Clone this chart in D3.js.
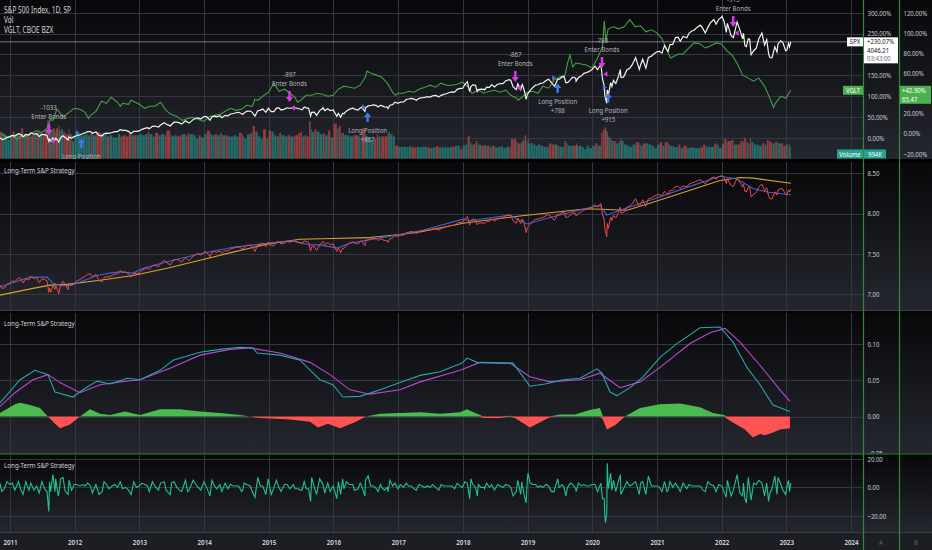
<!DOCTYPE html>
<html>
<head>
<meta charset="utf-8">
<script src="https://cdn.jsdelivr.net/npm/d3@7"></script>
<style>
  html, body { margin: 0; padding: 0; background: #131419; overflow: hidden; }
  svg { display: block; font-family: "Noto Sans", sans-serif; }
</style>
</head>
<body>
<script>
// S&P 500 daily-ish samples: date, close, volume (K), short-term oscillator
const spxRows = [
  ["2010-11-05",1225.85,2100,3],["2010-11-16",1178,2300,-3],["2010-11-30",1180,2200,-1],["2010-12-15",1236,2000,4],["2010-12-31",1258,1600,2],
  ["2011-01-14",1293,2000,3],["2011-01-28",1276,2300,-2],["2011-02-18",1343,2000,4],["2011-03-04",1321,2200,-2],["2011-03-16",1257,2600,-5],
  ["2011-03-31",1326,2100,4],["2011-04-18",1305,2000,-2],["2011-04-29",1364,1900,3],["2011-05-16",1329,2000,-2],["2011-05-31",1345,2100,1],
  ["2011-06-15",1265,2300,-4],["2011-06-30",1321,2200,4],["2011-07-15",1316,2000,-1],["2011-07-29",1292,2400,-3],["2011-08-08",1119,3300,-17],
  ["2011-08-12",1179,3000,4],["2011-08-19",1123,2800,-3],["2011-08-31",1219,2500,9],["2011-09-12",1162,2600,-3],["2011-09-16",1216,2400,6],
  ["2011-09-30",1131,2600,-6],["2011-10-03",1099,2800,-5],["2011-10-14",1225,2400,6],["2011-10-27",1285,2500,7],["2011-11-09",1230,2300,-3],
  ["2011-11-25",1158,2100,-5],["2011-11-30",1247,2500,5],["2011-12-15",1215,2100,-2],["2011-12-30",1258,1500,2],
  ["2012-01-13",1289,2000,2],["2012-01-31",1312,2100,1],["2012-02-15",1343,2000,2],["2012-02-29",1366,2000,1],["2012-03-15",1402,2100,3],
  ["2012-03-30",1408,2000,1],["2012-04-10",1358,2200,-4],["2012-04-30",1398,2000,2],["2012-05-18",1295,2300,-5],["2012-06-04",1278,2200,-3],
  ["2012-06-15",1342,2100,4],["2012-06-29",1362,2200,2],["2012-07-13",1356,1900,-1],["2012-07-31",1379,2000,1],["2012-08-15",1405,1800,2],
  ["2012-08-31",1407,1800,0],["2012-09-14",1465,2100,4],["2012-09-28",1441,1900,-1],["2012-10-15",1440,2000,0],["2012-10-31",1412,1900,-2],
  ["2012-11-15",1353,2200,-5],["2012-11-30",1416,2000,4],["2012-12-14",1413,2000,0],["2012-12-31",1426,2000,1],
  ["2013-01-15",1472,2100,3],["2013-01-31",1498,2000,2],["2013-02-15",1519,2100,1],["2013-02-25",1488,2300,-3],["2013-03-15",1560,2100,4],
  ["2013-03-28",1569,1900,1],["2013-04-18",1541,2200,-2],["2013-04-30",1598,2000,3],["2013-05-21",1669,2100,4],["2013-05-31",1631,2000,-2],
  ["2013-06-24",1573,2400,-5],["2013-07-01",1614,2000,3],["2013-07-15",1682,1900,4],["2013-07-31",1686,2000,0],["2013-08-15",1661,1900,-2],
  ["2013-08-27",1630,2000,-3],["2013-09-18",1725,2100,5],["2013-09-30",1682,2000,-3],["2013-10-08",1655,2200,-2],["2013-10-31",1757,2100,5],
  ["2013-11-15",1798,2000,2],["2013-11-29",1806,1700,0],["2013-12-13",1775,2000,-2],["2013-12-31",1848,1800,4],
  ["2014-01-15",1848,2100,0],["2014-02-03",1741,2400,-6],["2014-02-14",1838,2100,5],["2014-02-28",1859,2000,1],["2014-03-14",1841,2100,-1],
  ["2014-03-31",1872,2000,2],["2014-04-11",1815,2200,-3],["2014-04-30",1884,2000,3],["2014-05-15",1870,2000,-1],["2014-05-30",1924,1900,2],
  ["2014-06-16",1937,1900,1],["2014-06-30",1960,2000,1],["2014-07-15",1973,1900,1],["2014-07-31",1931,2200,-3],["2014-08-07",1909,2100,-2],
  ["2014-08-15",1955,1900,3],["2014-08-29",2003,1700,2],["2014-09-18",2011,2100,1],["2014-09-30",1972,2200,-3],["2014-10-15",1862,2800,-7],
  ["2014-10-31",2018,2300,7],["2014-11-14",2039,1900,1],["2014-11-28",2068,1700,1],["2014-12-16",1972,2500,-5],["2014-12-29",2090,1700,6],
  ["2015-01-15",1992,2400,-5],["2015-01-30",1995,2300,0],["2015-02-13",2096,2000,5],["2015-02-27",2105,1900,0],["2015-03-11",2040,2200,-3],
  ["2015-03-31",2068,2000,2],["2015-04-15",2106,1900,2],["2015-04-30",2086,2000,-1],["2015-05-20",2125,1900,2],["2015-05-29",2107,1900,-1],
  ["2015-06-15",2084,2000,-1],["2015-06-30",2063,2200,-2],["2015-07-08",2046,2300,-2],["2015-07-20",2128,1900,4],["2015-07-31",2104,2000,-1],
  ["2015-08-14",2091,1900,-1],["2015-08-25",1867,3200,-10],["2015-08-31",1972,2500,7],["2015-09-15",1978,2300,0],["2015-09-28",1881,2500,-5],
  ["2015-10-15",2023,2300,6],["2015-10-30",2079,2100,3],["2015-11-03",2109,2000,2],["2015-11-13",2023,2200,-4],["2015-11-30",2080,2000,3],
  ["2015-12-14",2021,2400,-3],["2015-12-31",2044,1800,1],
  ["2016-01-20",1859,3000,-8],["2016-01-29",1940,2600,4],["2016-02-11",1829,2800,-5],["2016-02-22",1945,2200,6],["2016-02-29",1932,2200,-1],
  ["2016-03-15",2015,2000,4],["2016-03-31",2060,2000,2],["2016-04-20",2102,1900,2],["2016-04-29",2065,2000,-2],["2016-05-19",2040,2000,-1],
  ["2016-05-31",2097,1900,3],["2016-06-08",2119,1800,1],["2016-06-27",2000,2600,-6],["2016-06-30",2099,2100,5],["2016-07-15",2161,1900,8],
  ["2016-07-29",2174,1800,1],["2016-08-15",2190,1600,1],["2016-08-31",2171,1700,-1],["2016-09-09",2127,2100,-3],["2016-09-22",2177,1900,2],
  ["2016-09-30",2168,1900,0],["2016-10-14",2133,1900,-2],["2016-10-31",2126,1900,0],["2016-11-04",2085,2100,-3],["2016-11-15",2180,2300,5],
  ["2016-11-30",2199,2100,1],["2016-12-13",2271,1900,3],["2016-12-30",2239,1100,-1],
  ["2017-01-13",2275,1000,2],["2017-01-31",2279,1000,0],["2017-02-15",2349,1000,3],["2017-02-28",2364,1000,1],["2017-03-15",2385,1050,1],
  ["2017-03-31",2363,1000,-1],["2017-04-13",2329,950,-2],["2017-04-28",2384,1000,2],["2017-05-15",2402,950,1],["2017-05-31",2412,1000,0],
  ["2017-06-15",2432,1000,1],["2017-06-30",2423,950,0],["2017-07-14",2459,900,2],["2017-07-31",2470,950,0],["2017-08-18",2426,1050,-2],
  ["2017-08-31",2472,950,2],["2017-09-15",2500,1000,1],["2017-09-29",2519,950,1],["2017-10-16",2557,950,1],["2017-10-31",2575,1000,1],
  ["2017-11-15",2565,1000,-1],["2017-11-30",2648,1100,3],["2017-12-15",2676,1100,1],["2017-12-29",2674,800,0],
  ["2018-01-12",2786,1100,4],["2018-01-26",2873,1200,3],["2018-02-08",2581,1900,-8],["2018-02-15",2731,1400,6],["2018-02-26",2780,1200,2],
  ["2018-03-13",2766,1200,0],["2018-03-23",2588,1500,-6],["2018-03-29",2641,1300,2],["2018-04-13",2656,1200,0],["2018-04-30",2648,1100,0],
  ["2018-05-03",2630,1200,-1],["2018-05-15",2711,1100,3],["2018-05-31",2705,1100,0],["2018-06-12",2787,1000,2],["2018-06-28",2716,1100,-2],
  ["2018-07-16",2798,950,2],["2018-07-31",2816,1000,1],["2018-08-15",2818,1050,0],["2018-08-31",2902,900,2],["2018-09-20",2931,1000,1],
  ["2018-09-28",2914,1000,0],["2018-10-11",2728,1700,-6],["2018-10-29",2641,1700,-3],["2018-11-07",2814,1400,5],["2018-11-23",2633,1300,-5],
  ["2018-11-30",2760,1400,4],["2018-12-03",2790,1400,1],["2018-12-14",2600,1600,-6],["2018-12-24",2351,2000,-11],["2018-12-31",2507,1500,6],
  ["2019-01-04",2532,1700,10],["2019-01-15",2610,1300,3],["2019-01-31",2704,1300,2],["2019-02-15",2775,1200,2],["2019-02-28",2784,1100,0],
  ["2019-03-15",2822,1200,1],["2019-03-29",2834,1100,0],["2019-04-15",2906,1000,2],["2019-04-30",2946,1000,1],["2019-05-15",2850,1300,-3],
  ["2019-05-31",2752,1200,-3],["2019-06-03",2744,1200,-1],["2019-06-20",2954,1200,6],["2019-06-28",2942,1100,0],["2019-07-15",3014,1000,2],
  ["2019-07-26",3025,1000,0],["2019-08-05",2844,1500,-6],["2019-08-15",2847,1300,0],["2019-08-30",2926,1100,3],["2019-09-13",3007,1100,2],
  ["2019-09-30",2977,1100,-1],["2019-10-02",2887,1300,-3],["2019-10-15",2995,1100,3],["2019-10-31",3038,1100,1],["2019-11-15",3120,1000,2],
  ["2019-11-29",3141,800,1],["2019-12-13",3169,1100,1],["2019-12-31",3231,900,2],
  ["2020-01-17",3329,1100,2],["2020-01-31",3226,1300,-3],["2020-02-19",3386,1100,3],["2020-02-28",2954,2200,-8],["2020-03-09",2746,2500,-8],
  ["2020-03-12",2480,2700,-20],["2020-03-16",2386,2600,-25],["2020-03-23",2237,2400,-18],["2020-03-26",2630,2300,17],["2020-04-01",2470,1900,-1],
  ["2020-04-14",2846,1800,10],["2020-04-21",2737,1600,-2],["2020-04-30",2912,1500,5],["2020-05-13",2820,1500,-3],["2020-05-29",3044,1300,5],
  ["2020-06-08",3232,1500,9],["2020-06-11",3002,1700,-5],["2020-06-26",3009,1500,-1],["2020-07-15",3227,1200,4],["2020-07-31",3271,1100,1],
  ["2020-08-14",3373,1000,2],["2020-09-02",3580,1200,4],["2020-09-23",3237,1400,-5],["2020-09-30",3363,1200,3],["2020-10-12",3534,1100,4],
  ["2020-10-30",3270,1300,-5],["2020-11-13",3585,1300,8],["2020-11-30",3622,1200,1],["2020-12-15",3694,1100,1],["2020-12-31",3756,900,1],
  ["2021-01-15",3768,1200,0],["2021-01-29",3714,1400,-3],["2021-02-12",3934,1100,4],["2021-02-26",3811,1400,-3],["2021-03-04",3768,1400,-2],
  ["2021-03-15",3968,1200,4],["2021-03-31",3973,1100,0],["2021-04-15",4170,1000,3],["2021-04-30",4181,1000,0],["2021-05-12",4063,1200,-3],
  ["2021-05-28",4204,900,3],["2021-06-18",4166,1100,-1],["2021-06-30",4298,900,2],["2021-07-15",4360,950,1],["2021-07-30",4395,950,1],
  ["2021-08-16",4479,900,1],["2021-09-02",4537,900,1],["2021-09-17",4433,1000,-2],["2021-09-30",4308,1200,-3],["2021-10-15",4471,1000,4],
  ["2021-10-29",4605,1000,2],["2021-11-18",4705,1000,1],["2021-11-30",4567,1300,-3],["2021-12-15",4709,1200,2],["2021-12-31",4766,900,1],
  ["2022-01-03",4797,1100,1],["2022-01-14",4662,1300,-3],["2022-01-27",4326,1700,-7],["2022-02-02",4589,1400,5],["2022-02-23",4225,1500,-6],
  ["2022-03-08",4170,1600,-2],["2022-03-29",4632,1200,9],["2022-04-14",4392,1200,-4],["2022-04-29",4132,1500,-6],["2022-05-04",4300,1400,3],
  ["2022-05-12",3930,1800,-8],["2022-05-20",3901,1700,-11],["2022-05-31",4132,1400,7],["2022-06-08",4116,1300,-1],["2022-06-16",3666,1700,-9],
  ["2022-06-30",3785,1400,3],["2022-07-15",3863,1200,2],["2022-07-29",4130,1200,5],["2022-08-16",4305,1100,3],["2022-08-31",3955,1300,-6],
  ["2022-09-12",4110,1200,3],["2022-09-23",3693,1600,-10],["2022-09-30",3586,1500,-4],["2022-10-12",3577,1400,-1],["2022-10-28",3901,1300,8],
  ["2022-11-09",3749,1400,-5],["2022-11-15",3992,1400,7],["2022-12-01",4076,1300,2],["2022-12-13",4019,1300,-2],["2022-12-28",3783,1100,-5],
  ["2023-01-05",3808,1200,1],["2023-01-13",3999,1200,5],["2023-01-19",3899,1200,-3],["2023-01-26",4046.21,994,3]
];

// VGLT change from first bar, %
const vgltRows = [
  ["2010-11-05",0],["2010-11-30",-2],["2010-12-15",-5],["2010-12-31",-3],["2011-01-31",-4],["2011-02-09",-6],["2011-02-28",-3],
  ["2011-03-31",-3],["2011-04-29",0],["2011-05-31",3],["2011-06-30",1],["2011-07-29",5],["2011-08-18",14],["2011-08-31",13],
  ["2011-09-22",24],["2011-09-30",23],["2011-10-27",16],["2011-11-30",21],["2011-12-30",25],["2012-01-31",24],["2012-02-29",21],
  ["2012-03-19",15],["2012-03-30",18],["2012-04-30",22],["2012-05-31",32],["2012-06-29",30],["2012-07-24",36],["2012-08-31",31],
  ["2012-09-14",27],["2012-09-28",30],["2012-10-31",29],["2012-11-15",33],["2012-12-31",29],["2013-01-31",25],["2013-02-28",27],
  ["2013-03-29",27],["2013-04-30",31],["2013-05-31",23],["2013-06-28",19],["2013-07-31",17],["2013-08-30",13],["2013-09-30",15],
  ["2013-10-31",16],["2013-11-29",14],["2013-12-31",12],["2014-01-31",17],["2014-02-28",18],["2014-03-31",19],["2014-04-30",22],
  ["2014-05-30",25],["2014-06-30",23],["2014-07-31",24],["2014-08-29",28],["2014-09-30",27],["2014-10-15",34],["2014-10-31",33],
  ["2014-11-28",37],["2014-12-31",41],["2015-01-30",50],["2015-02-27",42],["2015-03-31",44],["2015-04-30",40],["2015-05-29",36],
  ["2015-06-12",31],["2015-06-30",33],["2015-07-31",38],["2015-08-31",38],["2015-09-30",40],["2015-10-30",39],["2015-11-30",37],
  ["2015-12-31",38],["2016-01-29",44],["2016-02-29",47],["2016-03-31",46],["2016-04-29",45],["2016-05-31",48],["2016-06-30",56],
  ["2016-07-08",62],["2016-07-29",60],["2016-08-31",58],["2016-09-30",56],["2016-10-31",50],["2016-11-30",41],["2016-12-15",38],
  ["2016-12-30",40],["2017-01-31",40],["2017-02-28",42],["2017-03-31",41],["2017-04-28",44],["2017-05-31",46],["2017-06-30",48],
  ["2017-07-31",46],["2017-08-31",50],["2017-09-29",48],["2017-10-31",48],["2017-11-30",49],["2017-12-29",51],["2018-01-31",46],
  ["2018-02-21",40],["2018-03-29",43],["2018-04-30",40],["2018-05-31",42],["2018-06-29",43],["2018-07-31",41],["2018-08-31",43],
  ["2018-09-28",38],["2018-10-31",35],["2018-11-09",33],["2018-11-30",36],["2018-12-31",41],["2019-01-31",42],["2019-02-28",40],
  ["2019-03-29",47],["2019-04-30",45],["2019-05-31",53],["2019-06-28",56],["2019-07-31",58],["2019-08-15",70],["2019-08-28",78],
  ["2019-09-13",66],["2019-09-30",70],["2019-10-31",69],["2019-11-29",68],["2019-12-31",65],["2020-01-31",75],["2020-02-28",86],
  ["2020-03-09",112],["2020-03-18",92],["2020-03-31",104],["2020-04-30",106],["2020-05-29",104],["2020-06-30",106],["2020-07-31",113],
  ["2020-08-31",106],["2020-09-30",107],["2020-10-30",101],["2020-11-30",103],["2020-12-31",100],["2021-01-29",94],["2021-02-26",83],
  ["2021-03-18",75],["2021-03-31",76],["2021-04-30",79],["2021-05-28",79],["2021-06-30",85],["2021-07-30",90],["2021-08-31",89],
  ["2021-09-30",85],["2021-10-29",87],["2021-11-30",90],["2021-12-31",89],["2022-01-31",82],["2022-02-28",78],["2022-03-31",69],
  ["2022-04-29",58],["2022-05-31",55],["2022-06-30",52],["2022-07-29",55],["2022-08-31",47],["2022-09-30",35],["2022-10-21",26],
  ["2022-10-31",30],["2022-11-30",37],["2022-12-30",35],["2023-01-26",42.9]
];
const vgltLastPrice = 65.47;
const barCountdown = "03:43:00";

// strategy signals: date, kind, quantity, fill price
const trades = [
  ["2011-08-08","bonds",1033,1129],["2012-02-08","long",1033,1364],["2015-04-28","bonds",897,2100],
  ["2016-07-12","long",867,2129],["2018-10-24","bonds",867,2689],["2019-06-20","long",788,2982],
  ["2020-02-25","bonds",788,3100],["2020-04-01","long",915,2705],["2022-03-07","bonds",915,4303]
];

// panel 2 (log price): fast and slow trend lines, [decimal year, value]
const trendFast = [
  [2010.845,7.09],[2011.077,7.15],[2011.309,7.21],[2011.572,7.21],[2011.665,7.135],[2011.804,7.10],[2011.958,7.11],
  [2012.082,7.15],[2012.345,7.23],[2012.546,7.26],[2012.700,7.275],[2012.901,7.26],[2013.056,7.32],[2013.427,7.40],
  [2013.937,7.50],[2014.447,7.58],[2014.972,7.63],[2015.374,7.66],[2015.637,7.61],[2015.791,7.61],[2016.054,7.57],
  [2016.255,7.63],[2016.518,7.67],[2017.028,7.74],[2017.337,7.784],[2018.002,7.93],[2018.110,7.91],[2018.728,7.98],
  [2018.991,7.87],[2019.393,7.96],[2019.918,8.065],[2020.119,8.10],[2020.227,7.98],[2020.428,8.04],[2020.938,8.177],
  [2021.464,8.325],[2021.974,8.463],[2022.236,8.43],[2022.484,8.31],[2022.700,8.268],[2023.009,8.236],[2023.070,8.236]
];
const trendSlow = [
  [2010.845,6.986],[2011.355,7.07],[2011.618,7.11],[2011.881,7.12],[2012.391,7.17],[2012.901,7.23],[2013.427,7.32],
  [2013.937,7.42],[2014.447,7.52],[2014.972,7.62],[2015.482,7.68],[2015.992,7.69],[2016.518,7.70],[2017.028,7.74],
  [2017.337,7.77],[2018.002,7.88],[2018.883,7.97],[2019.918,8.06],[2020.227,8.05],[2020.536,8.04],[2020.938,8.14],
  [2021.974,8.41],[2022.283,8.447],[2022.484,8.44],[2023.070,8.376]
];

// panel 3 (momentum): line, signal, histogram, [decimal year, value]
const momLine = [
  [2010.845,0.019],[2011.155,0.051],[2011.386,0.064],[2011.587,0.058],[2011.696,0.034],[2011.974,0.027],[2012.128,0.037],
  [2012.345,0.049],[2012.546,0.045],[2012.808,0.053],[2013.009,0.051],[2013.318,0.064],[2013.519,0.078],[2013.937,0.089],
  [2014.246,0.093],[2014.555,0.096],[2014.756,0.095],[2014.818,0.088],[2015.173,0.085],[2015.482,0.078],[2015.791,0.051],
  [2015.992,0.044],[2016.147,0.027],[2016.410,0.028],[2016.719,0.037],[2017.028,0.047],[2017.337,0.057],[2017.646,0.062],
  [2017.986,0.074],[2018.063,0.081],[2018.218,0.075],[2018.573,0.074],[2018.774,0.074],[2019.037,0.042],[2019.269,0.045],
  [2019.547,0.051],[2019.810,0.053],[2020.073,0.066],[2020.150,0.060],[2020.274,0.034],[2020.382,0.029],[2020.583,0.040],
  [2020.784,0.055],[2021.046,0.082],[2021.309,0.101],[2021.665,0.123],[2021.974,0.124],[2022.175,0.103],[2022.391,0.068],
  [2022.592,0.044],[2022.793,0.016],[2023.056,0.007]
];
const momSignal = [
  [2010.845,0.014],[2011.077,0.033],[2011.355,0.051],[2011.587,0.058],[2011.773,0.047],[2012.082,0.033],[2012.391,0.044],
  [2012.700,0.048],[2013.009,0.051],[2013.473,0.067],[2013.937,0.085],[2014.400,0.093],[2014.709,0.095],[2015.173,0.088],
  [2015.637,0.075],[2015.946,0.058],[2016.255,0.037],[2016.564,0.031],[2017.028,0.037],[2017.337,0.048],[2017.955,0.064],
  [2018.264,0.075],[2018.728,0.074],[2019.037,0.055],[2019.346,0.048],[2019.810,0.051],[2020.119,0.060],[2020.428,0.040],
  [2020.737,0.048],[2021.046,0.068],[2021.510,0.101],[2021.819,0.116],[2022.051,0.122],[2022.283,0.103],[2022.592,0.071],
  [2022.901,0.037],[2023.056,0.021]
];
const momHist = [
  [2010.845,0.005],[2011.077,0.017],[2011.155,0.019],[2011.309,0.016],[2011.464,0.012],[2011.587,0],[2011.696,-0.010],
  [2011.773,-0.016],[2011.927,-0.011],[2012.082,0],[2012.236,0.010],[2012.391,0.004],[2012.546,0.002],[2012.777,0.007],
  [2013.009,0.002],[2013.318,0.010],[2013.628,0.010],[2013.937,0.007],[2014.246,0.005],[2014.555,0.002],[2014.709,0],
  [2014.864,-0.002],[2015.328,-0.004],[2015.637,-0.007],[2015.760,-0.015],[2015.915,-0.010],[2016.100,-0.016],[2016.332,-0.008],
  [2016.502,0],[2016.719,0.004],[2017.028,0.005],[2017.337,0.006],[2017.646,0.004],[2017.955,0.006],[2018.063,0.010],
  [2018.264,0.002],[2018.311,-0.002],[2018.573,-0.002],[2018.728,0.001],[2018.805,-0.002],[2019.037,-0.015],[2019.192,-0.008],
  [2019.346,-0.001],[2019.501,0.003],[2019.733,0.003],[2019.964,0.009],[2020.119,0.012],[2020.165,-0.004],[2020.227,-0.018],
  [2020.351,-0.012],[2020.505,0],[2020.737,0.012],[2021.046,0.017],[2021.355,0.018],[2021.665,0.013],[2021.866,0.005],
  [2022.035,0.002],[2022.082,-0.003],[2022.206,-0.010],[2022.360,-0.018],[2022.484,-0.029],[2022.592,-0.024],[2022.669,-0.026],
  [2022.793,-0.022],[2022.901,-0.018],[2023.056,-0.016]
];

// tick values for the price scales
const pctTicksA = [0, 50, 100, 150, 200, 250, 300];
const pctTicksB = [-20, 0, 20, 40, 60, 80, 100, 120];
const logTicks = [7.0, 7.5, 8.0, 8.5];
const momTicks = [-0.05, 0, 0.05, 0.10];
const oscTicks = [-20, 0, 20];

const W = 932, H = 550;
const plotRight = 863, axisB = 899;
const textGrey = "#b2b5be";
const SX = 0.8;   // screenshot text is horizontally narrow

const parse = d3.timeParse("%Y-%m-%d");
function fromYear(v) {
  const y = Math.floor(v);
  const s = new Date(y, 0, 1), e = new Date(y + 1, 0, 1);
  return new Date(+s + (v - y) * (e - s));
}
function label(parent, tx, ty, str, size, fill, anchor) {
  return parent.append("text")
    .attr("transform", `translate(${tx},${ty}) scale(${SX},1)`)
    .attr("dy", "0.35em").attr("text-anchor", anchor || "start")
    .style("font-size", (size || 7.5) + "px").attr("fill", fill || textGrey).text(str);
}

const spx = spxRows.map(d => ({ date: parse(d[0]), close: d[1], vol: d[2], osc: d[3] }));
const spxBase = spx[0].close;
spx.forEach(d => { d.pct = (d.close / spxBase - 1) * 100; d.ln = Math.log(d.close); });
const vglt = vgltRows.map(d => ({ date: parse(d[0]), v: d[1] }));
const toPts = arr => arr.map(d => ({ date: fromYear(d[0]), v: d[1] }));

const x = d3.scaleTime().domain([new Date(2011, 0, 1), new Date(2024, 0, 1)]).range([10, 851]);
const yA = d3.scaleLinear().domain([0, 300]).range([137.7, 12.7]);
const yB = d3.scaleLinear().domain([0, 120]).range([133.5, 12.7]);
const yVol = d3.scaleLinear().domain([0, 4000]).range([158.5, 112]);
const yLog = d3.scaleLinear().domain([7, 8.5]).range([294, 173.3]);
const yMom = d3.scaleLinear().domain([-0.05, 0.10]).range([452.7, 344.3]);
const yOsc = d3.scaleLinear().domain([-20, 20]).range([515.7, 459]);

const panels = [
  { y0: 0, y1: 159 }, { y0: 162, y1: 311 }, { y0: 313, y1: 453.5 }, { y0: 455, y1: 532 }
];

const svg = d3.select("body").append("svg").attr("width", W).attr("height", H);
const defs = svg.append("defs");
const grad = defs.append("linearGradient").attr("id", "bg").attr("x1", 0).attr("y1", 0).attr("x2", 0).attr("y2", 1);
grad.append("stop").attr("offset", "0%").attr("stop-color", "#08080a");
grad.append("stop").attr("offset", "100%").attr("stop-color", "#25272f");

svg.append("rect").attr("width", W).attr("height", H).attr("fill", "#000");
panels.forEach((p, i) => {
  svg.append("rect").attr("x", 0).attr("y", p.y0).attr("width", W).attr("height", p.y1 - p.y0).attr("fill", "url(#bg)");
  defs.append("clipPath").attr("id", "clip" + i)
    .append("rect").attr("x", 0).attr("y", p.y0).attr("width", plotRight).attr("height", p.y1 - p.y0);
  defs.append("clipPath").attr("id", "aclip" + i)
    .append("rect").attr("x", plotRight).attr("y", p.y0).attr("width", W - plotRight).attr("height", p.y1 - p.y0);
});
// time axis band
svg.append("rect").attr("x", 0).attr("y", 533).attr("width", W).attr("height", H - 533).attr("fill", "#1c1e24");

// vertical year grid
const years = x.ticks(d3.timeYear.every(1));
panels.forEach(p => {
  svg.append("g").selectAll("line").data(years).join("line")
    .attr("x1", d => Math.round(x(d)) + 0.5).attr("x2", d => Math.round(x(d)) + 0.5)
    .attr("y1", p.y0).attr("y2", p.y1)
    .attr("stroke", "#34373f").attr("stroke-width", 1);
});

// horizontal grids
function hgrid(scale, ticks, i) {
  svg.append("g").attr("clip-path", `url(#clip${i})`).selectAll("line").data(ticks).join("line")
    .attr("x1", 0).attr("x2", plotRight)
    .attr("y1", d => Math.round(scale(d)) + 0.5).attr("y2", d => Math.round(scale(d)) + 0.5)
    .attr("stroke", "#34373f").attr("stroke-width", 1);
}
hgrid(yA, pctTicksA, 0);
hgrid(yLog, logTicks, 1);
hgrid(yMom, momTicks, 2);
hgrid(yOsc, oscTicks, 3);

// ---------- panel 1 ----------
const p1 = svg.append("g").attr("clip-path", "url(#clip0)");
p1.append("g").selectAll("rect").data(spx).join("rect")
  .attr("x", (d, i) => i ? x(spx[i - 1].date) + 0.3 : x(d.date) - 2)
  .attr("width", (d, i) => Math.max(1, i ? x(d.date) - x(spx[i - 1].date) - 0.3 : 2))
  .attr("y", d => yVol(d.vol))
  .attr("height", d => yVol(0) - yVol(d.vol))
  .attr("fill", (d, i) => (i && d.close < spx[i - 1].close) ? "#ef5350" : "#26a69a")
  .attr("opacity", 0.55);

p1.append("line").attr("x1", 0).attr("x2", plotRight)
  .attr("y1", yA(spx[spx.length - 1].pct)).attr("y2", yA(spx[spx.length - 1].pct))
  .attr("stroke", "#cfd2d8").attr("stroke-opacity", 0.55).attr("stroke-width", 1);

p1.append("path").datum(vglt)
  .attr("d", d3.line().x(d => x(d.date)).y(d => yB(d.v)))
  .attr("fill", "none").attr("stroke", "#43a047").attr("stroke-width", 1.1);

p1.append("path").datum(spx)
  .attr("d", d3.line().x(d => x(d.date)).y(d => yA(d.pct)))
  .attr("fill", "none").attr("stroke", "#f2f2f2").attr("stroke-width", 1.2);

// strategy markers
const tr = trades.map(d => ({ date: parse(d[0]), kind: d[1], qty: d[2], pct: (d[3] / spxBase - 1) * 100 }));
const tg = p1.append("g");
tr.forEach(t => {
  const mx = x(t.date), my = yA(t.pct);
  if (t.kind === "bonds") {
    const c = "#d73ae8";
    tg.append("path").attr("d", `M${mx + 1.5},${my} L${mx + 5.5},${my - 2.8} L${mx + 5.5},${my + 2.8} Z`).attr("fill", c);
    tg.append("path").attr("d",
      `M${mx - 1.2},${my - 17} L${mx + 1.2},${my - 17} L${mx + 1.2},${my - 11} L${mx + 3.6},${my - 11} L${mx},${my - 6} L${mx - 3.6},${my - 11} L${mx - 1.2},${my - 11} Z`)
      .attr("fill", c);
    label(tg, mx, my - 25, "Enter Bonds", 7.6, textGrey, "middle");
    label(tg, mx, my - 34, "-" + t.qty, 7.6, textGrey, "middle");
  } else {
    const c = "#3d7bf0";
    tg.append("path").attr("d", `M${mx - 1.5},${my} L${mx - 5.5},${my - 2.8} L${mx - 5.5},${my + 2.8} Z`).attr("fill", c);
    tg.append("path").attr("d",
      `M${mx - 1.2},${my + 15} L${mx + 1.2},${my + 15} L${mx + 1.2},${my + 10} L${mx + 3.6},${my + 10} L${mx},${my + 5.5} L${mx - 3.6},${my + 10} L${mx - 1.2},${my + 10} Z`)
      .attr("fill", c);
    label(tg, mx, my + 23, "Long Position", 7.6, textGrey, "middle");
    label(tg, mx, my + 32, "+" + t.qty, 7.6, textGrey, "middle");
  }
});

// ---------- panel 2 ----------
const p2 = svg.append("g").attr("clip-path", "url(#clip1)");
const lineV = (sy) => d3.line().x(d => x(d.date)).y(d => sy(d.v));
p2.append("path").datum(toPts(trendSlow)).attr("d", lineV(yLog))
  .attr("fill", "none").attr("stroke", "#d9a032").attr("stroke-width", 1.1);
p2.append("path").datum(toPts(trendFast)).attr("d", lineV(yLog))
  .attr("fill", "none").attr("stroke", "#3f63d8").attr("stroke-width", 1.1);
p2.append("path").datum(spx).attr("d", d3.line().x(d => x(d.date)).y(d => yLog(d.ln)))
  .attr("fill", "none").attr("stroke", "#f0484a").attr("stroke-width", 1);

// ---------- panel 3 ----------
const p3 = svg.append("g").attr("clip-path", "url(#clip2)");
const hist = toPts(momHist);
p3.append("path").datum(hist)
  .attr("d", d3.area().x(d => x(d.date)).y0(yMom(0)).y1(d => yMom(Math.max(0, d.v))))
  .attr("fill", "#4cbb4f");
p3.append("path").datum(hist)
  .attr("d", d3.area().x(d => x(d.date)).y0(yMom(0)).y1(d => yMom(Math.min(0, d.v))))
  .attr("fill", "#ff5252");
p3.append("path").datum(toPts(momSignal)).attr("d", lineV(yMom))
  .attr("fill", "none").attr("stroke", "#b44bd2").attr("stroke-width", 1.1);
p3.append("path").datum(toPts(momLine)).attr("d", lineV(yMom))
  .attr("fill", "none").attr("stroke", "#2aa5a8").attr("stroke-width", 1.1);

// ---------- panel 4 ----------
const p4 = svg.append("g").attr("clip-path", "url(#clip3)");
p4.append("path").datum(spx).attr("d", d3.line().x(d => x(d.date)).y(d => yOsc(d.osc)))
  .attr("fill", "none").attr("stroke", "#20c28e").attr("stroke-width", 1.1);

// ---------- right price scales ----------
const last = spx[spx.length - 1];
const ly = yA(last.pct);
const vl = vglt[vglt.length - 1];
const vy = yB(vl.v);

function rightAxis(scale, ticks, fmt, at, panel) {
  const g = svg.append("g").attr("clip-path", `url(#aclip${panel})`)
    .append("g").attr("transform", `translate(${at},0)`)
    .call(d3.axisRight(scale).tickValues(ticks).tickSize(0).tickPadding(5.6).tickFormat(fmt));
  g.select(".domain").remove();
  g.selectAll("text").attr("fill", "#c8cbd2").attr("transform", `scale(${SX},1)`)
    .style("font-size", "7.5px").style("font-family", "Noto Sans, sans-serif");
}
const fPct = d => d3.format(".2f")(d) + "%";
rightAxis(yA, pctTicksA.filter(d => !(yA(d) > ly - 6 && yA(d) < ly + 25)), fPct, plotRight, 0);
rightAxis(yB, pctTicksB.filter(d => !(yB(d) > vy - 8 && yB(d) < vy + 17)), fPct, axisB, 0);
rightAxis(yLog, logTicks, d3.format(".2f"), plotRight, 1);
rightAxis(yMom, momTicks, d3.format(".2f"), plotRight, 2);
rightAxis(yOsc, oscTicks, d3.format(".2f"), plotRight, 3);

// ---------- separators ----------
svg.append("rect").attr("x", 0).attr("y", 159).attr("width", W).attr("height", 3).attr("fill", "#000");
svg.append("rect").attr("x", 0).attr("y", 311).attr("width", W).attr("height", 2).attr("fill", "#050506");
svg.append("line").attr("x1", 0).attr("x2", W).attr("y1", 310.5).attr("y2", 310.5).attr("stroke", "#3a3d46");
svg.append("line").attr("x1", 0).attr("x2", W).attr("y1", 532.5).attr("y2", 532.5).attr("stroke", "#3a3d46");
svg.append("line").attr("x1", 0).attr("x2", W).attr("y1", 454).attr("y2", 454).attr("stroke", "#2f8a3a").attr("stroke-width", 1.2);
[plotRight, axisB].forEach(v => {
  svg.append("line").attr("x1", v + 0.5).attr("x2", v + 0.5).attr("y1", 0).attr("y2", H)
    .attr("stroke", "#2f8a3a").attr("stroke-width", 1.2);
});

// ---------- last value labels ----------
svg.append("rect").attr("x", 847).attr("y", ly - 4.5).attr("width", 16).attr("height", 9).attr("fill", "#fff");
label(svg, 855, ly, "SPX", 7.5, "#131722", "middle");
svg.append("rect").attr("x", plotRight + 1).attr("y", ly - 4.5).attr("width", 34).attr("height", 26).attr("fill", "#fff");
label(svg, plotRight + 4, ly, "+" + d3.format(".2f")(last.pct) + "%", 7.5, "#131722");
label(svg, plotRight + 4, ly + 8.5, d3.format(".2f")(last.close), 7.5, "#131722");
label(svg, plotRight + 4, ly + 17, barCountdown, 7.5, "#6a6d78");

svg.append("rect").attr("x", 843).attr("y", vy - 4.5).attr("width", 20).attr("height", 9).attr("fill", "#4caf50");
label(svg, 853, vy, "VGLT", 7.5, "#fff", "middle");
svg.append("rect").attr("x", axisB + 1).attr("y", vy - 4.5).attr("width", 31).attr("height", 18).attr("fill", "#4caf50");
label(svg, axisB + 3, vy, "+" + d3.format(".2f")(vl.v) + "%", 7.5, "#fff");
label(svg, axisB + 3, vy + 8.6, d3.format(".2f")(vgltLastPrice), 7.5, "#fff");

const volY = yVol(0) - 4.5;
svg.append("rect").attr("x", 837).attr("y", volY - 4.5).attr("width", 26).attr("height", 9).attr("fill", "#22a28f");
label(svg, 850, volY, "Volume", 7.5, "#fff", "middle");
svg.append("rect").attr("x", plotRight + 1).attr("y", volY - 4.5).attr("width", 22).attr("height", 9).attr("fill", "#22a28f");
label(svg, plotRight + 12, volY, Math.round(last.vol) + "K", 7.5, "#fff", "middle");

// ---------- time axis ----------
const xa = svg.append("g").attr("transform", "translate(0,542)")
  .call(d3.axisBottom(x).ticks(d3.timeYear.every(1)).tickFormat(d3.timeFormat("%Y")).tickSize(0).tickPadding(0));
xa.select(".domain").remove();
xa.selectAll("text").attr("dy", "0.35em").attr("fill", "#d8dae0").attr("transform", `scale(${SX},1)`)
  .style("font-size", "7.8px").style("font-weight", "600").style("font-family", "Noto Sans, sans-serif");
label(svg, 881, 542, "A", 7.8, "#5d606b", "middle");
label(svg, 916, 542, "B", 7.8, "#5d606b", "middle");

// ---------- legends ----------
["S&P 500 Index, 1D, SP", "Vol", "VGLT, CBOE BZX"].forEach((t, i) => {
  label(svg, 4, 10 + i * 10, t, 8.2, "#d1d4dc");
});
[170, 323, 465].forEach(yy => {
  label(svg, 4, yy, "Long-Term S&P Strategy", 7.8, "#d1d4dc");
});
</script>
</body>
</html>
